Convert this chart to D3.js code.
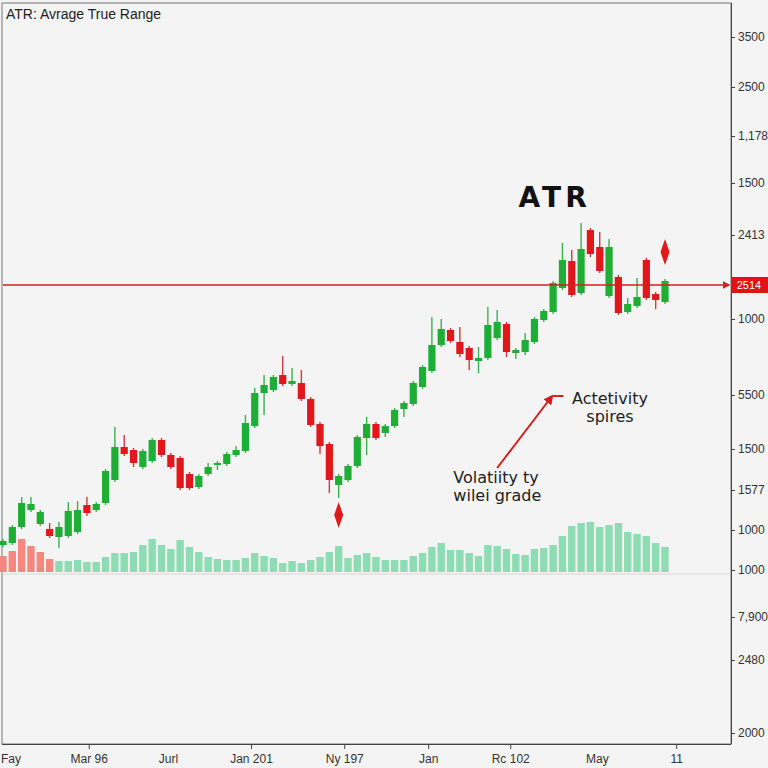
<!DOCTYPE html>
<html>
<head>
<meta charset="utf-8">
<script src="https://cdn.jsdelivr.net/npm/d3@7"></script>
<style>
  body { margin: 0; background: #f4f4f4; }
  svg { display: block; font-family: "Liberation Sans", Arial, sans-serif; }
</style>
</head>
<body>
<svg id="chart"></svg>
<script>
const width = 768;
const height = 768;

// candle data (arbitrary price units)
const candleOpen = [398,402,434,468,440,430,414,416,424,478,468,482,528,594,588,554,566,608,578,572,540,514,540,558,560,578,586,636,702,708,738,720,722,690,640,600,518,528,556,612,640,622,636,670,680,714,746,798,828,804,792,766,772,812,840,782,784,804,848,864,912,966,902,1028,994,896,934,864,876,968,900,884];
const candleClose = [406,434,482,480,464,416,434,466,468,462,480,546,594,580,562,586,608,578,554,512,512,536,554,562,580,588,642,702,718,734,720,726,690,638,596,528,536,556,614,640,612,636,668,682,722,754,798,830,806,780,768,772,838,844,784,788,808,850,866,922,968,898,990,980,946,994,862,880,894,892,888,926];
const candleHigh = [410,438,494,494,468,442,444,484,486,494,484,550,634,618,592,590,612,612,582,576,544,540,562,566,584,596,658,712,738,738,776,752,748,694,644,604,540,560,618,654,644,640,672,686,726,758,854,850,832,834,796,794,874,868,844,792,822,854,870,926,1002,988,1042,1032,1024,1010,938,892,932,972,904,930];
const candleLow = [394,398,430,464,436,412,392,412,420,456,464,478,524,576,554,550,562,574,550,508,508,510,536,548,556,574,582,632,658,704,716,716,686,634,580,502,492,524,552,578,608,614,632,654,676,710,742,794,802,774,748,742,768,808,774,770,778,800,844,860,908,894,898,974,942,892,858,860,872,888,870,880];

// volume bars
const volume = [160,210,330,260,200,130,110,110,120,100,100,150,190,190,200,270,330,270,230,320,250,200,150,130,120,120,140,190,160,140,90,110,90,120,150,200,260,140,170,190,150,120,120,120,160,190,250,290,220,220,190,160,270,260,230,180,170,230,240,270,360,460,490,500,450,470,490,400,380,360,290,250];
const volumeFalling = [1,1,1,1,1,1,0,0,0,0,0,0,0,0,0,0,0,0,0,0,0,0,0,0,0,0,0,0,0,0,0,0,0,0,0,0,0,0,0,0,0,0,0,0,0,0,0,0,0,0,0,0,0,0,0,0,0,0,0,0,0,0,0,0,0,0,0,0,0,0,0,0];

// axis ticks
const xTickLabels = ["Fay", "Mar 96", "Jurl", "Jan 201", "Ny 197", "Jan", "Rc 102", "May", "11"];
const xTickPos = [0.8, 9.2, 17.7, 26.6, 36.6, 45.6, 54.4, 63.7, 72.2];
const xTickMark = [false, true, false, true, true, true, true, false, true];
const yTickLabels = ["3500","2500","1,178","1500","2413","1000","5500","1500","1577","1000","1000","7,900","2480","2000"];
const yTickPos = [1414,1314,1216,1122,1018,850,698,590,508,428,348,254,168,22];

// current ATR level
const atrLevel = 918;
const atrLabel = "2514";

// markers and notes
const markerIdx = [36, 71];
const markerLevel = [458, 984];
const notes = [
  { lines: ["Actetivity", "spires"], idx: 65.1, level: 680, anchor: "middle" },
  { lines: ["Volatiity ty", "wilei grade"], idx: 48.3, level: 522, anchor: "start" }
];

const green = "#1fae35";
const red = "#e2171c";

const svg = d3.select("#chart")
    .attr("width", width)
    .attr("height", height);

const xScale = d3.scaleLinear().domain([0, 71]).range([3, 665]);
const yScale = d3.scaleLinear().domain([0, 1480]).range([744, 4]);
const volScale = d3.scaleLinear().domain([0, 600]).range([572, 512]);

// arrow markers
const defs = svg.append("defs");
defs.append("marker")
    .attr("id", "redArrow")
    .attr("viewBox", "0 0 10 10")
    .attr("refX", 8).attr("refY", 5)
    .attr("markerWidth", 5).attr("markerHeight", 5)
    .attr("orient", "auto")
    .append("path").attr("d", "M0,0L10,5L0,10Z").attr("fill", "#d41f1f");

// frame
svg.append("rect")
    .attr("x", 2).attr("y", 3)
    .attr("width", 729).attr("height", 741)
    .attr("fill", "none")
    .attr("stroke", "#777")
    .attr("stroke-width", 1);

// separator under volume
svg.append("line")
    .attr("x1", 2).attr("x2", 731)
    .attr("y1", volScale(0) + 2).attr("y2", volScale(0) + 2)
    .attr("stroke", "#d6d6d6");

// volume
svg.append("g").selectAll("rect")
    .data(volume)
    .enter().append("rect")
    .attr("x", (d, i) => xScale(i) - 3.7)
    .attr("width", 7.4)
    .attr("y", d => volScale(d))
    .attr("height", d => volScale(0) - volScale(d))
    .attr("fill", (d, i) => volumeFalling[i] ? "#f4877f" : "#8ddcb3");

// candles
const candles = svg.append("g").selectAll("g")
    .data(candleOpen)
    .enter().append("g");

candles.append("line")
    .attr("x1", (d, i) => xScale(i))
    .attr("x2", (d, i) => xScale(i))
    .attr("y1", (d, i) => yScale(candleHigh[i]))
    .attr("y2", (d, i) => yScale(candleLow[i]))
    .attr("stroke", (d, i) => candleClose[i] >= d ? "#3bb04e" : "#d8383b")
    .attr("stroke-width", 1.4);

candles.append("rect")
    .attr("x", (d, i) => xScale(i) - 3.6)
    .attr("width", 7.2)
    .attr("y", (d, i) => yScale(Math.max(d, candleClose[i])))
    .attr("height", (d, i) => Math.max(2, Math.abs(yScale(d) - yScale(candleClose[i]))))
    .attr("fill", (d, i) => candleClose[i] >= d ? green : red);

// ATR level line
svg.append("line")
    .attr("x1", 3).attr("x2", 729)
    .attr("y1", yScale(atrLevel)).attr("y2", yScale(atrLevel))
    .attr("stroke", "#d41f1f")
    .attr("stroke-width", 1.5)
    .attr("marker-end", "url(#redArrow)");

// x axis
const xAxis = svg.append("g")
    .attr("transform", "translate(0,744)")
    .call(d3.axisBottom(xScale).tickValues(xTickPos).tickFormat((d, i) => xTickLabels[i]).tickSize(5).tickPadding(5));
xAxis.select(".domain").remove();
xAxis.selectAll(".tick line")
    .attr("stroke", "#444")
    .attr("opacity", (d, i) => xTickMark[i] ? 1 : 0);
xAxis.selectAll(".tick text")
    .attr("fill", "#333")
    .attr("font-size", 12)
    .attr("font-family", "'Liberation Sans', Arial, sans-serif");

// y axis (right)
const yAxis = svg.append("g")
    .attr("transform", "translate(731,0)")
    .call(d3.axisRight(yScale).tickValues(yTickPos).tickFormat((d, i) => yTickLabels[i]).tickSize(4).tickPadding(3));
yAxis.select(".domain").attr("stroke", "#444").attr("d", "M0.5,3V744");
yAxis.selectAll(".tick line").attr("stroke", "#444");
yAxis.selectAll(".tick text")
    .attr("fill", "#333")
    .attr("font-size", 12)
    .attr("font-family", "'Liberation Sans', Arial, sans-serif");

// bottom axis line
svg.append("line")
    .attr("x1", 2).attr("x2", 731)
    .attr("y1", 744.5).attr("y2", 744.5)
    .attr("stroke", "#444");

// current value label
svg.append("rect")
    .attr("x", 731).attr("y", yScale(atrLevel) - 8)
    .attr("width", 37).attr("height", 16)
    .attr("fill", "#e01414");
svg.append("text")
    .attr("x", 749).attr("y", yScale(atrLevel) + 4)
    .attr("text-anchor", "middle")
    .attr("fill", "#fff")
    .attr("font-size", 11)
    .text(atrLabel);

// up/down markers
svg.append("g").selectAll("path")
    .data(markerIdx)
    .enter().append("path")
    .attr("transform", (d, i) => `translate(${xScale(d)},${yScale(markerLevel[i])})`)
    .attr("d", "M0,-13L4.5,0L0,13L-4.5,0Z")
    .attr("fill", "#e01a1a");

// annotation arrow
svg.append("line")
    .attr("x1", xScale(53)).attr("y1", yScale(552))
    .attr("x2", xScale(58.9)).attr("y2", yScale(696))
    .attr("stroke", "#d41f1f")
    .attr("stroke-width", 2)
    .attr("marker-end", "url(#redArrow)");
svg.append("line")
    .attr("x1", xScale(59)).attr("x2", xScale(60.1))
    .attr("y1", yScale(696)).attr("y2", yScale(696))
    .attr("stroke", "#d41f1f")
    .attr("stroke-width", 2);

// notes
notes.forEach(n => {
    const t = svg.append("text")
        .attr("text-anchor", n.anchor)
        .attr("font-family", "'DejaVu Sans', sans-serif")
        .attr("font-size", 16)
        .attr("fill", "#222");
    n.lines.forEach((l, k) => {
        t.append("tspan")
            .attr("x", xScale(n.idx))
            .attr("y", yScale(n.level) + k * 18)
            .text(l);
    });
});

// titles
svg.append("text")
    .attr("x", 6).attr("y", 19)
    .attr("font-size", 14)
    .attr("fill", "#222")
    .text("ATR: Avrage True Range");

svg.append("text")
    .attr("x", xScale(55.3)).attr("y", yScale(1074))
    .attr("font-family", "'DejaVu Sans', sans-serif")
    .attr("font-weight", "bold")
    .attr("font-size", 28)
    .attr("letter-spacing", 4)
    .attr("fill", "#111")
    .text("ATR");
</script>
</body>
</html>
